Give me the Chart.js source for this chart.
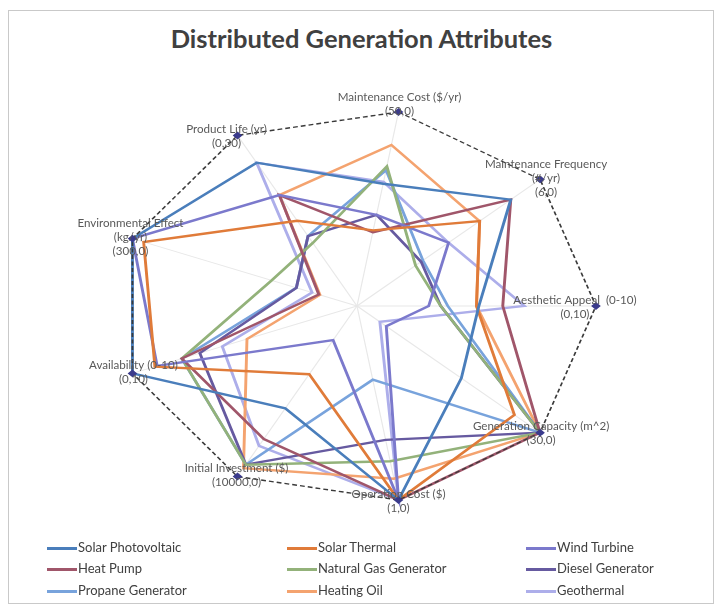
<!DOCTYPE html>
<html>
<head>
<meta charset="utf-8">
<script src="https://cdn.jsdelivr.net/npm/chart.js@4.4.1/dist/chart.umd.min.js"></script>
<style>
body { margin: 0; background: #fff; }
#frame { position: absolute; left: 8px; top: 10px; width: 704px; height: 592px; border: 1px solid #c9c9c9; }
#title { position: absolute; left: 0; top: 23px; width: 723px; text-align: center;
  font: bold 25.5px Lato, "Open Sans", sans-serif; color: #404040; }
#chart { position: absolute; left: 0; top: 0; }
.leg { position: absolute; font: 13px Lato, "Open Sans", sans-serif; color: #404040; white-space: nowrap; }
.leg span { display: inline-block; width: 30px; height: 3px; vertical-align: middle; margin-right: 1px; }
</style>
</head>
<body>
<div id="frame"></div>
<div id="title">Distributed Generation Attributes</div>
<canvas id="chart" width="723" height="612"></canvas>
<div id="legend"></div>
<script>
// axes, clockwise from the top
var axisLabels = [
    ['Maintenance Cost ($/yr)', '(50,0)'],
    ['Maintenance Frequency', '(#/yr)', '(6,0)'],
    ['Aesthetic Appeal  (0-10)', '(0,10)'],
    ['Generation Capacity (m^2)', '(30,0)'],
    ['Operation Cost ($)', '(1,0)'],
    ['Initial Investment ($)', '(10000,0)'],
    ['Availability (0-10)', '(0,10)'],
    ['Environmental Effect', '(kg/yr)', '(300,0)'],
    ['Product Life (yr)', '(0,30)']
];

// scores on a 0..10 scale (10 = outer ring)
var boundary      = [10, 10, 10, 10, 10, 10, 10, 10, 10];
var solarPV       = [6.3, 8.4, 5.1, 5.7, 10, 6.0, 10, 10, 8.4];
var solarThermal  = [3.9, 6.7, 5.0, 8.6, 10, 4.0, 9.0, 9.5, 5.0];
var windTurbine   = [4.7, 5.0, 3.0, 1.6, 10, 2.0, 8.9, 10, 6.5];
var heatPump      = [3.8, 8.4, 6.1, 10, 10, 7.8, 7.8, 1.7, 6.5];
var naturalGas    = [7.2, 3.2, 3.5, 10, 8.0, 9.3, 7.8, 3.8, 3.7];
var diesel        = [4.7, 3.5, 3.5, 10, 6.9, 9.3, 7.0, 2.7, 4.1];
var propane       = [7.0, 3.6, 3.8, 10, 3.8, 9.3, 7.8, 2.7, 4.1];
var heatingOil    = [8.3, 6.7, 5.0, 10, 8.9, 9.5, 4.9, 1.65, 6.5];
var geothermal    = [6.4, 5.0, 7.0, 1.25, 10, 8.2, 6.0, 2.0, 8.4];

var seriesNames = ['Solar Photovoltaic', 'Solar Thermal', 'Wind Turbine',
                   'Heat Pump', 'Natural Gas Generator', 'Diesel Generator',
                   'Propane Generator', 'Heating Oil', 'Geothermal'];
var seriesData = [solarPV, solarThermal, windTurbine, heatPump, naturalGas,
                  diesel, propane, heatingOil, geothermal];
var seriesColors = ['#4a7ebb', '#e07b39', '#7b79cc', '#a0566a', '#93b27a',
                    '#665aa0', '#78a3dc', '#f4a36f', '#adaeea'];

// the picture is wider than tall
const X_STRETCH = 1.213;
// label nudges per axis [dx, dy]
var labelShift = [[1, -8], [6, -1], [-21, 1], [1, 1], [0, 1], [-1, -1], [1, -1], [-2, -1], [-11, 1]];

var stretch = {
    id: 'stretch',
    beforeDraw: function(chart) {
	var s = chart.scales.r, ctx = chart.ctx;
	ctx.save();
	ctx.translate(s.xCenter, 0);
	ctx.scale(X_STRETCH, 1);
	ctx.translate(-s.xCenter, 0);
    },
    afterDatasetsDraw: function(chart) {
	chart.ctx.restore();
    },
    afterDraw: function(chart) {
	var s = chart.scales.r, ctx = chart.ctx;
	ctx.save();
	ctx.font = '11.6px Lato, "Open Sans", sans-serif';
	ctx.fillStyle = '#595959';
	ctx.textAlign = 'center';
	ctx.textBaseline = 'middle';
	for (var i = 0; i < axisLabels.length; i++) {
	    var p = s.getPointPosition(i, s.drawingArea);
	    var x = s.xCenter + (p.x - s.xCenter) * X_STRETCH + labelShift[i][0];
	    var lines = axisLabels[i];
	    var y0 = p.y + labelShift[i][1] - (lines.length - 1) * 14 / 2;
	    for (var j = 0; j < lines.length; j++)
		ctx.fillText(lines[j], x, y0 + j * 14);
	}
	ctx.restore();
    }
};

var datasets = [{
    label: 'Boundary',
    data: boundary,
    borderColor: '#3a3a3a',
    borderWidth: 1.4,
    borderDash: [4, 2.5],
    pointStyle: 'rectRot',
    pointRadius: 3,
    pointBackgroundColor: '#3b3b8c',
    pointBorderColor: '#3b3b8c',
    fill: false,
    order: 0
}];
for (var i = 0; i < seriesNames.length; i++) {
    datasets.push({
	label: seriesNames[i],
	data: seriesData[i],
	borderColor: seriesColors[i],
	borderWidth: 2.4,
	pointRadius: 0,
	fill: false,
	order: i + 1
    });
}

const ctx = document.getElementById('chart');
new Chart(ctx, {
    type: 'radar',
    data: {
	labels: axisLabels.map(function(l) { return l[0]; }),
	datasets: datasets
    },
    options: {
	responsive: false,
	animation: false,
	layout: { padding: { left: 160, right: 169, top: 109, bottom: 109 } },
	plugins: {
	    legend: { display: false },
	    tooltip: { enabled: false }
	},
	elements: { line: { tension: 0 } },
	scales: {
	    r: {
		min: 0,
		max: 10,
		startAngle: 10,
		ticks: { display: false },
		grid: { display: false },
		angleLines: { color: '#e8e8e8', lineWidth: 1 },
		pointLabels: { display: false }
	    }
	}
    },
    plugins: [stretch]
});

// legend, three columns
var legX = [47, 287, 526];
var legY = [547, 568, 590];
var legend = document.getElementById('legend');
seriesNames.forEach(function(name, i) {
    var d = document.createElement('div');
    d.className = 'leg';
    d.style.left = legX[i % 3] + 'px';
    d.style.top = (legY[Math.floor(i / 3)] - 8) + 'px';
    d.innerHTML = '<span style="background:' + seriesColors[i] + '"></span>' + name;
    legend.appendChild(d);
});
</script>
</body>
</html>
